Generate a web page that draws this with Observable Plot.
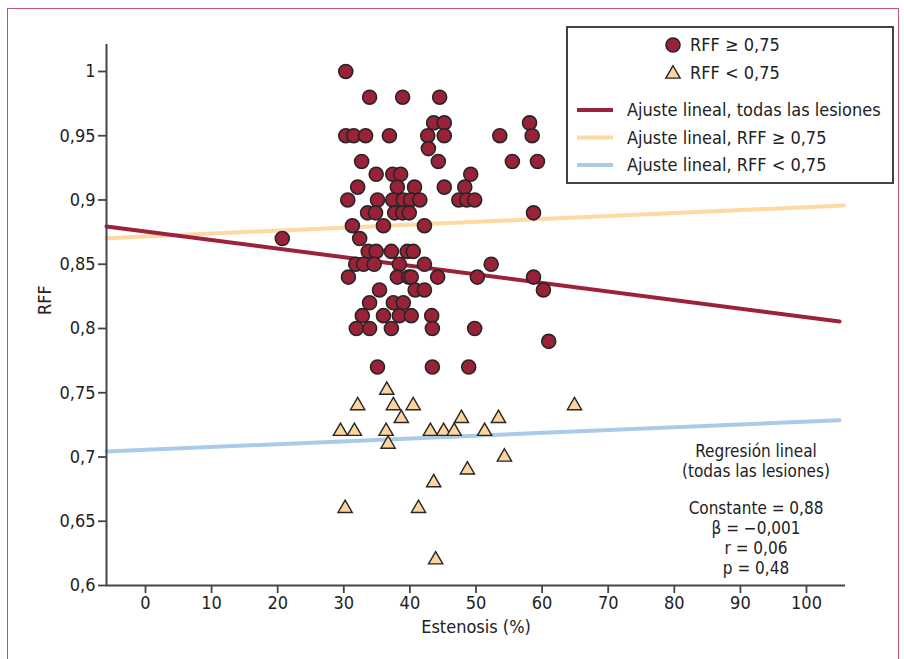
<!DOCTYPE html>
<html>
<head>
<meta charset="utf-8">
<script src="https://cdn.jsdelivr.net/npm/d3@7"></script>
<script src="https://cdn.jsdelivr.net/npm/@observablehq/plot@0.6"></script>
<style>
  html, body { margin: 0; padding: 0; background: #fff; }
  #wrap { position: relative; width: 904px; height: 659px; overflow: hidden;
          font-family: "Liberation Sans Narrow", "DejaVu Sans Condensed", "Arial Narrow", sans-serif; color: #222; }
  #frame { position: absolute; left: 7px; top: 8px; width: 890px; height: 700px; border: 1.5px solid #c4566c; }
  #chart { position: absolute; left: 0; top: 0; }
  #legend { position: absolute; left: 566px; top: 26px; width: 324px; height: 154px;
            border: 2px solid #444; background: #fff; }
  #legend svg { position: absolute; left: 0; top: 0; }
  .lg { position: absolute; font-size: 18px; line-height: 20px; white-space: nowrap; }
  .nt { position: absolute; left: 656px; width: 200px; text-align: center;
        font-size: 17px; line-height: 18px; white-space: nowrap; }
</style>
</head>
<body>
<div id="wrap">
  <div id="frame"></div>
  <div id="chart"></div>
  <div id="legend"></div>
  <div id="note"></div>
</div>
<script>
// ---- data ----
// RFF >= 0,75 (circles)
const circleX = [30.3,
  33.9, 38.9, 44.5,
  43.6, 45.2, 58.1,
  30.3, 31.5, 33.3, 36.9, 42.7, 45.2, 53.6, 58.5,
  42.8,
  32.7, 44.3, 55.5, 59.3,
  34.9, 37.4, 38.6, 49.2,
  32.1, 38.1, 40.7, 45.2, 48.3,
  30.6, 35.1, 37.4, 39.0, 40.1, 41.5, 47.4, 48.6, 49.8,
  33.6, 34.8, 37.7, 38.9, 39.9, 58.7,
  31.3, 36.0, 42.2,
  20.7, 32.4,
  33.7, 34.9, 37.2, 39.6, 40.5,
  31.8, 33.0, 34.6, 38.4, 42.2, 52.3,
  30.7, 38.1, 39.8, 40.2, 44.2, 50.2, 58.7,
  35.4, 40.8, 42.2, 60.2,
  33.9, 37.5, 39.0,
  32.8, 36.0, 38.4, 40.2, 43.3,
  31.9, 33.9, 37.2, 43.4, 49.8,
  61.0,
  35.1, 43.4, 48.9];
const circleY = [1.00,
  0.98, 0.98, 0.98,
  0.96, 0.96, 0.96,
  0.95, 0.95, 0.95, 0.95, 0.95, 0.95, 0.95, 0.95,
  0.94,
  0.93, 0.93, 0.93, 0.93,
  0.92, 0.92, 0.92, 0.92,
  0.91, 0.91, 0.91, 0.91, 0.91,
  0.90, 0.90, 0.90, 0.90, 0.90, 0.90, 0.90, 0.90, 0.90,
  0.89, 0.89, 0.89, 0.89, 0.89, 0.89,
  0.88, 0.88, 0.88,
  0.87, 0.87,
  0.86, 0.86, 0.86, 0.86, 0.86,
  0.85, 0.85, 0.85, 0.85, 0.85, 0.85,
  0.84, 0.84, 0.84, 0.84, 0.84, 0.84, 0.84,
  0.83, 0.83, 0.83, 0.83,
  0.82, 0.82, 0.82,
  0.81, 0.81, 0.81, 0.81, 0.81,
  0.80, 0.80, 0.80, 0.80, 0.80,
  0.79,
  0.77, 0.77, 0.77];
// RFF < 0,75 (triangles)
const triX = [36.5, 32.1, 37.5, 40.5, 64.9, 38.7, 47.8, 53.4, 29.5, 31.6, 36.4, 43.1, 45.1, 46.7, 51.3, 36.7, 54.3, 48.7, 43.6, 30.2, 41.3, 43.9];
const triY = [0.752, 0.74, 0.74, 0.74, 0.74, 0.73, 0.73, 0.73, 0.72, 0.72, 0.72, 0.72, 0.72, 0.72, 0.72, 0.71, 0.70, 0.69, 0.68, 0.66, 0.66, 0.62];
// linear fits
const fitNames = ["Ajuste lineal, todas las lesiones", "Ajuste lineal, RFF \u2265 0,75", "Ajuste lineal, RFF < 0,75"];
const fitIntercept = [0.8755, 0.8716, 0.7056];
const fitSlope = [-0.000667, 0.000228, 0.000219];
const fitXStart = [-5.9, -5.9, -5.9];
const fitXEnd = [105.0, 105.6, 105.0];
const fitColors = ["#9b2238", "#fdd9a4", "#a9cbea"];
// axes
const xTicks = [0, 10, 20, 30, 40, 50, 60, 70, 80, 90, 100];
const yTicks = [0.6, 0.65, 0.7, 0.75, 0.8, 0.85, 0.9, 0.95, 1];
const xDomain = [-5.9, 105.9];
const yDomain = [0.6, 1.021];
const noteLines = ["Regresi\u00f3n lineal", "(todas las lesiones)", "Constante = 0,88", "\u03b2 = \u22120,001", "r = 0,06", "p = 0,48"];
const noteTops = [442, 462, 499, 519, 539, 559];

const circleColor = "#9a2238", triColor = "#fdd49e", edge = "#262626";
const font = "'Liberation Sans Narrow', 'DejaVu Sans Condensed', 'Arial Narrow', sans-serif";

const circles = circleX.map((x, i) => ({x, y: circleY[i]}));
const tris = triX.map((x, i) => ({x, y: triY[i]}));
const fitLines = fitNames.flatMap((name, i) => [
  {name, x: fitXStart[i], y: fitIntercept[i] + fitSlope[i] * fitXStart[i]},
  {name, x: fitXEnd[i], y: fitIntercept[i] + fitSlope[i] * fitXEnd[i]}
]);
const fmt = d => d3.format(".2~f")(d).replace(".", ",");

const chart = Plot.plot({
  width: 904, height: 659,
  marginLeft: 106, marginRight: 59, marginTop: 44, marginBottom: 74,
  x: {domain: xDomain},
  y: {domain: yDomain},
  style: {fontFamily: font, fontSize: "18px", color: "#222", background: "transparent", overflow: "visible"},
  marks: [
    Plot.line(fitLines.filter(d => d.name === fitNames[1]), {x: "x", y: "y", stroke: fitColors[1], strokeWidth: 4}),
    Plot.line(fitLines.filter(d => d.name === fitNames[0]), {x: "x", y: "y", stroke: fitColors[0], strokeWidth: 4}),
    Plot.line(fitLines.filter(d => d.name === fitNames[2]), {x: "x", y: "y", stroke: fitColors[2], strokeWidth: 4}),
    Plot.dot(circles, {x: "x", y: "y", r: 7, fill: circleColor, stroke: edge, strokeWidth: 1.6}),
    Plot.dot(tris, {x: "x", y: "y", r: 5.3, symbol: "triangle", fill: triColor, stroke: edge, strokeWidth: 1.4}),
    Plot.ruleX([xDomain[0]], {stroke: "#444", strokeWidth: 2}),
    Plot.ruleY([yDomain[0]], {stroke: "#444", strokeWidth: 2}),
    Plot.axisX({ticks: xTicks, tickSize: 8, tickPadding: 3, tickFormat: fmt, label: null, stroke: "#444", strokeWidth: 1.8, fill: "#222", fontSize: 18}),
    Plot.axisY({ticks: yTicks, tickSize: 8, tickPadding: 3, tickFormat: fmt, label: null, stroke: "#444", strokeWidth: 1.8, fill: "#222", fontSize: 18}),
    Plot.text(["RFF"], {text: d => d, frameAnchor: "left", dx: -61, rotate: -90, fontSize: 18, fill: "#222"}),
    Plot.text(["Estenosis (%)"], {text: d => d, frameAnchor: "bottom", dy: 47, fontSize: 18, fill: "#222"})
  ]
});
document.getElementById("chart").appendChild(chart);

// legend
const lg = document.getElementById("legend");
const ns = "http://www.w3.org/2000/svg";
const ls = document.createElementNS(ns, "svg");
ls.setAttribute("width", 324); ls.setAttribute("height", 154);
const tri = d3.symbol(d3.symbolTriangle, Math.PI * 5.3 * 5.3)();
ls.innerHTML =
  `<circle cx="105" cy="17" r="7" fill="${circleColor}" stroke="${edge}" stroke-width="1.6"/>` +
  `<path d="${tri}" transform="translate(105,46)" fill="${triColor}" stroke="${edge}" stroke-width="1.4"/>` +
  fitColors.map((c, i) => `<line x1="9" x2="45" y1="${82 + i * 27.5}" y2="${82 + i * 27.5}" stroke="${c}" stroke-width="4"/>`).join("");
lg.appendChild(ls);
const legendTexts = [["RFF \u2265 0,75", 122, 17], ["RFF < 0,75", 122, 45]]
  .concat(fitNames.map((n, i) => [n, 59, 82 + i * 27.5]));
legendTexts.forEach(([t, x, y]) => {
  const d = document.createElement("div");
  d.className = "lg"; d.textContent = t;
  d.style.left = x + "px"; d.style.top = (y - 10) + "px";
  lg.appendChild(d);
});

// regression note
const note = document.getElementById("note");
noteLines.forEach((t, i) => {
  const d = document.createElement("div");
  d.className = "nt";
  d.textContent = t;
  d.style.top = noteTops[i] + "px";
  note.appendChild(d);
});
</script>
</body>
</html>
